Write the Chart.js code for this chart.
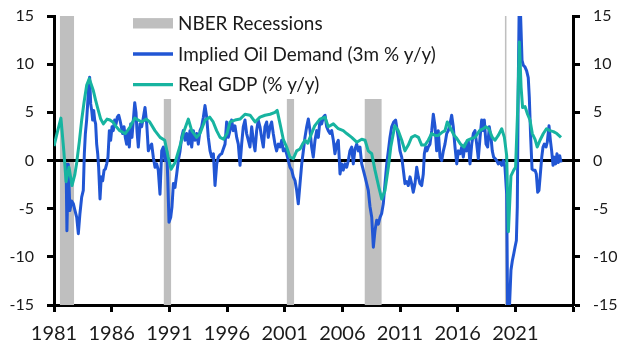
<!DOCTYPE html>
<html>
<head>
<meta charset="utf-8">
<script src="https://cdn.jsdelivr.net/npm/chart.js@4.4.1/dist/chart.umd.min.js"></script>
<style>
  html, body { margin: 0; padding: 0; background: #fff; }
  #wrap { width: 634px; height: 363px; }
</style>
</head>
<body>
<div id="wrap"><canvas id="oilChart"></canvas></div>
<script>
// implied oil demand, 3m % y/y
const oilDates = [
  1982.05, 1982.12, 1982.24, 1982.38, 1982.53, 1982.68, 1982.82, 1982.97, 1983.11, 1983.25,
  1983.40, 1983.54, 1983.63, 1983.72, 1983.83, 1983.92, 1984.00, 1984.09, 1984.18, 1984.27,
  1984.35, 1984.44, 1984.53, 1984.61, 1984.70, 1984.79, 1984.87, 1984.99, 1985.10, 1985.22,
  1985.34, 1985.45, 1985.57, 1985.68, 1985.80, 1985.91, 1986.03, 1986.14, 1986.26, 1986.38,
  1986.49, 1986.61, 1986.72, 1986.84, 1986.95, 1987.07, 1987.18, 1987.30, 1987.42, 1987.53,
  1987.65, 1987.76, 1987.88, 1988.00, 1988.11, 1988.20, 1988.31, 1988.46, 1988.60, 1988.75,
  1988.89, 1989.04, 1989.18, 1989.32, 1989.47, 1989.61, 1989.76, 1989.90, 1990.04, 1990.19,
  1990.34, 1990.48, 1990.62, 1990.77, 1990.86, 1990.97, 1991.12, 1991.23, 1991.35, 1991.49,
  1991.64, 1991.78, 1991.93, 1992.07, 1992.21, 1992.36, 1992.50, 1992.65, 1992.79, 1992.94,
  1993.08, 1993.23, 1993.37, 1993.51, 1993.66, 1993.80, 1993.95, 1994.09, 1994.24, 1994.38,
  1994.53, 1994.67, 1994.82, 1994.96, 1995.11, 1995.25, 1995.39, 1995.54, 1995.68, 1995.83,
  1995.97, 1996.11, 1996.26, 1996.40, 1996.55, 1996.69, 1996.84, 1996.98, 1997.13, 1997.27,
  1997.41, 1997.56, 1997.70, 1997.85, 1997.99, 1998.14, 1998.28, 1998.43, 1998.57, 1998.71,
  1998.86, 1999.00, 1999.15, 1999.29, 1999.44, 1999.58, 1999.73, 1999.87, 2000.01, 2000.16,
  2000.30, 2000.45, 2000.60, 2000.74, 2000.88, 2001.03, 2001.17, 2001.32, 2001.46, 2001.61,
  2001.75, 2001.90, 2002.04, 2002.18, 2002.33, 2002.48, 2002.62, 2002.76, 2002.91, 2003.05,
  2003.20, 2003.34, 2003.48, 2003.63, 2003.78, 2003.92, 2004.06, 2004.21, 2004.35, 2004.50,
  2004.64, 2004.78, 2004.93, 2005.08, 2005.22, 2005.36, 2005.51, 2005.65, 2005.80, 2005.94,
  2006.08, 2006.23, 2006.38, 2006.52, 2006.66, 2006.81, 2006.95, 2007.10, 2007.25, 2007.39,
  2007.53, 2007.68, 2007.82, 2007.97, 2008.11, 2008.25, 2008.40, 2008.55, 2008.69, 2008.83,
  2008.98, 2009.12, 2009.27, 2009.41, 2009.55, 2009.70, 2009.85, 2009.99, 2010.13, 2010.28,
  2010.45, 2010.62, 2010.85, 2011.00, 2011.15, 2011.29, 2011.43, 2011.58, 2011.72, 2011.87,
  2012.01, 2012.15, 2012.30, 2012.45, 2012.59, 2012.73, 2012.88, 2013.02, 2013.11, 2013.23,
  2013.34, 2013.45, 2013.60, 2013.75, 2013.89, 2014.04, 2014.18, 2014.32, 2014.47, 2014.62,
  2014.76, 2014.90, 2015.05, 2015.19, 2015.34, 2015.48, 2015.62, 2015.77, 2015.92, 2016.06,
  2016.20, 2016.35, 2016.49, 2016.64, 2016.78, 2016.92, 2017.07, 2017.22, 2017.36, 2017.50,
  2017.65, 2017.79, 2017.94, 2018.08, 2018.22, 2018.31, 2018.46, 2018.60, 2018.74, 2018.89,
  2019.00, 2019.12, 2019.24, 2019.38, 2019.52, 2019.67, 2019.82, 2019.96, 2020.10, 2020.25,
  2020.33, 2020.48, 2020.62, 2020.74, 2020.86, 2020.97, 2021.09, 2021.17, 2021.26, 2021.35,
  2021.46, 2021.58, 2021.69, 2021.84, 2021.98, 2022.12, 2022.21, 2022.33, 2022.45, 2022.56,
  2022.71, 2022.82, 2022.94, 2023.05, 2023.17, 2023.29, 2023.40, 2023.51, 2023.66, 2023.77,
  2023.92, 2024.03, 2024.15, 2024.27, 2024.38, 2024.50, 2024.61, 2024.73, 2024.85, 2024.96
];
const oilValues = [
  -0.4, -7.3, -0.4, -5.2, -4.2, -4.5, -5.2, -5.9, -7.6, -5.5,
  -3.8, -3.1, 0.7, 2.8, 4.2, 5.9, 7.6, 8.65, 5.9, 5.2,
  4.2, 5.2, 4.2, 3.8, 1.7, 0.7, -0.7, -4.0, -1.7, -2.1,
  -1.0, -0.9, -0.35, 0.35, 3.1, 2.1, 3.5, 3.1, 4.2, 3.8,
  4.5, 4.7, 4.2, 3.5, 2.8, 3.5, 2.4, 1.7, 3.1, 1.4,
  3.8, 2.4, 4.2, 6.0, 5.0, 3.0, 1.4, 3.8, 3.5, 4.5,
  5.5, 3.8, 1.0, 1.4, 1.7, 0.35, -0.7, -0.35, -1.0, -3.5,
  1.0, 1.4, 0.0, 1.0, -1.7, -6.4, -5.9, -4.8, -2.4, -2.8,
  -1.4, 0.0, 1.0, 2.4, 3.1, 2.1, 2.8, 1.7, 3.1, 1.4,
  3.1, 2.1, 2.8, 1.7, 3.1, 3.5, 4.5, 5.7, 4.5, 2.4,
  1.0, 0.35, 0.7, -2.6, -0.35, 0.35, 0.6, 0.7, 1.2, 1.7,
  4.0, 2.4, 3.1, 4.2, 3.1, 3.6, 2.4, 1.7, -0.5, 1.7,
  3.5, 4.2, 2.8, 2.1, 1.4, 3.5, 2.1, 1.0, 3.1, 4.2,
  3.5, 2.4, 1.4, 3.5, 4.0, 2.4, 3.5, 4.0, 2.8, 1.7,
  1.0, 1.7, 1.4, 2.1, 1.0, 1.2, 0.7, 0.0, -0.7, -1.0,
  -1.7, -2.1, -3.1, -4.5, -2.4, -0.35, 1.0, 2.4, 3.5, 4.3,
  3.1, 1.4, 0.35, 2.1, 3.1, 2.4, 4.2, 3.8, 4.5, 4.7,
  3.5, 3.1, 2.8, 3.1, 2.1, 0.7, 1.7, 2.1, -1.4, -0.35,
  -1.0, -0.35, -0.7, 0.0, 1.0, 1.4, -0.35, 1.2, 1.7, 1.0,
  1.4, -0.35, -1.0, -1.7, -2.4, -3.1, -4.8, -5.9, -9.0, -7.3,
  -6.2, -6.6, -5.9, -5.5, -4.5, -2.4, -0.35, 1.0, 2.4, 3.5,
  4.0, 4.2, 2.4, 1.0, 0.35, -1.0, -2.4, -2.2, -2.6, -1.7,
  -2.4, -3.3, -2.4, -0.7, -1.7, -2.4, -2.6, -1.4, 0.7, 1.4,
  1.0, 1.4, 1.7, 3.1, 4.8, 3.5, 1.0, 3.1, 0.35, 0.0,
  1.0, 1.7, 2.8, 3.1, 3.8, 4.7, 3.5, 1.4, -0.35, 1.0,
  0.7, 1.4, 0.35, 1.7, 1.0, 2.1, -0.35, 1.7, 2.8, 3.1,
  1.7, 0.2, 2.4, 4.2, 3.1, 4.2, 1.7, 1.4, 3.5, 2.4,
  1.0, 0.35, 0.2, 0.0, -0.35, -0.2, -0.5, 0.0, -0.7, -3.5,
  -15.5, -15.5, -11.4, -10.4, -9.7, -9.0, -8.3, -4.8, 8.6, 17.5,
  14.9, 10.4, 9.9, 9.7, 9.3, 8.6, 6.6, 2.4, -0.9, -1.0,
  -1.0, -1.4, -3.3, -3.1, -1.4, 0.35, 1.4, 1.7, 1.4, 1.9,
  3.6, 2.2, 1.0, -0.5, 0.35, -0.35, 0.7, -0.2, 0.5, -0.2
];

// real GDP, % y/y
const gdpDates = [
  1981.00, 1981.30, 1981.60, 1981.85, 1982.05, 1982.30, 1982.56, 1982.80, 1982.97, 1983.20,
  1983.40, 1983.60, 1983.83, 1984.06, 1984.40, 1984.60, 1984.84, 1985.05, 1985.28, 1985.60,
  1985.85, 1986.10, 1986.40, 1986.70, 1987.00, 1987.20, 1987.60, 1988.00, 1988.30, 1988.60,
  1989.00, 1989.30, 1989.75, 1990.20, 1990.60, 1990.90, 1991.15, 1991.50, 1991.90, 1992.20,
  1992.65, 1992.94, 1993.37, 1993.66, 1994.10, 1994.50, 1994.80, 1995.10, 1995.40, 1995.70,
  1996.00, 1996.26, 1996.70, 1997.13, 1997.56, 1998.00, 1998.43, 1998.86, 1999.30, 1999.73,
  2000.16, 2000.35, 2000.60, 2000.88, 2001.17, 2001.46, 2001.75, 2002.04, 2002.33, 2002.55,
  2002.76, 2003.00, 2003.30, 2003.60, 2004.06, 2004.50, 2004.78, 2005.22, 2005.65, 2006.08,
  2006.38, 2006.81, 2007.25, 2007.68, 2007.97, 2008.25, 2008.55, 2008.83, 2009.17, 2009.42,
  2009.70, 2009.99, 2010.20, 2010.55, 2010.85, 2011.15, 2011.43, 2011.72, 2012.00, 2012.30,
  2012.60, 2012.88, 2013.17, 2013.45, 2013.75, 2014.04, 2014.32, 2014.62, 2014.90, 2015.10,
  2015.40, 2015.70, 2015.92, 2016.25, 2016.55, 2016.84, 2017.22, 2017.50, 2017.90, 2018.20,
  2018.45, 2018.70, 2019.00, 2019.24, 2019.52, 2019.82, 2020.05, 2020.25, 2020.40, 2020.62,
  2020.86, 2021.02, 2021.20, 2021.35, 2021.50, 2021.63, 2021.84, 2022.06, 2022.27, 2022.47,
  2022.71, 2022.90, 2023.14, 2023.43, 2023.71, 2024.00, 2024.30, 2024.60, 2024.96
];
const gdpValues = [
  1.5, 3.0, 4.4, 1.0, -2.2, -0.7, -2.6, -1.5, -0.2, 2.0,
  4.2, 6.0, 7.8, 8.5, 7.3, 6.3, 5.2, 4.3, 3.8, 4.3,
  4.2, 4.0, 3.5, 3.1, 2.9, 2.8, 3.5, 4.4, 4.2, 4.0,
  4.3, 4.0, 3.1, 2.4, 2.1, 0.35, -0.9, -0.2, 1.4, 2.8,
  4.3, 3.1, 2.4, 2.8, 4.2, 4.5, 4.0, 3.1, 2.4, 2.2,
  2.8, 4.0, 4.2, 4.3, 4.8, 4.7, 4.0, 4.5, 4.7, 4.8,
  5.0, 5.2, 3.8, 2.2, 1.4, 0.35, 0.2, 1.0, 1.2, 1.7,
  2.1, 1.8, 2.7, 3.6, 4.3, 4.5, 3.5, 3.8, 3.3, 3.1,
  2.8, 2.4, 1.9, 2.2, 2.1, 1.0, 0.7, -1.0, -2.8, -4.0,
  -3.1, -0.7, 1.4, 3.6, 3.1, 2.1, 1.0, 1.6, 2.4, 2.6,
  2.4, 1.6, 1.6, 2.1, 2.8, 2.6, 2.6, 2.9, 3.1, 4.0,
  3.3, 2.6, 2.3, 1.7, 1.4, 2.1, 2.3, 2.4, 3.1, 3.3,
  3.5, 3.3, 2.4, 2.1, 2.6, 3.3, 2.4, 0.5, -7.4, -1.6,
  -1.0, -0.7, 5.2, 12.3, 7.6, 5.5, 5.6, 4.8, 4.2, 2.8,
  2.2, 1.4, 2.1, 2.8, 3.3, 3.1, 3.0, 2.8, 2.4
];

// NBER recessions
const recessionStarts = [1981.50, 1990.50, 2001.17, 2007.92, 2020.08];
const recessionEnds = [1982.75, 1991.17, 2001.83, 2009.42, 2020.25];

const yearTicks = [1981, 1986, 1991, 1996, 2001, 2006, 2011, 2016, 2021, 2026];
const yMin = -15;
const yMax = 15;

const textColor = '#1a1a1a';

const toPoints = (xs, ys) => xs.map((x, i) => ({ x: x, y: ys[i] }));

const recessionPoints = [];
recessionStarts.forEach((start, i) => {
  recessionPoints.push({ x: start, y: yMax }, { x: recessionEnds[i], y: yMax }, { x: recessionEnds[i], y: null });
});

// legend sits on a white panel that hides the top of the recession bars
const legendPanel = {
  id: 'legendPanel',
  afterDatasetDraw(chart, args) {
    if (args.index !== 0) return;
    const ctx = chart.ctx;
    const items = [0, 2, 3];
    ctx.save();
    ctx.fillStyle = '#fff';
    ctx.fillRect(125, 0, 325, 99);
    ctx.font = '18.9px Lato';
    ctx.textBaseline = 'alphabetic';
    items.forEach((idx, row) => {
      const ds = chart.data.datasets[idx];
      const midY = 23.3 + row * 30.7;
      if (ds.fill) {
        ctx.fillStyle = ds.backgroundColor;
        ctx.fillRect(133, midY - 5.2, 40, 10.4);
      } else {
        ctx.strokeStyle = ds.borderColor;
        ctx.lineWidth = 3.3;
        ctx.beginPath();
        ctx.moveTo(133, midY);
        ctx.lineTo(173, midY);
        ctx.stroke();
      }
      ctx.fillStyle = textColor;
      ctx.fillText(ds.label, 178, midY + 6.5);
    });
    ctx.restore();
  }
};

const gridStyle = {
  display: true,
  drawOnChartArea: false,
  drawTicks: true,
  tickLength: 7,
  tickColor: '#000',
  tickWidth: 3
};
const borderStyle = { display: true, color: '#000', width: 3 };

const yAxis = (position, width) => ({
  position: position,
  min: yMin,
  max: yMax,
  z: 1,
  afterFit: s => {
    s.width = width;
    s.paddingTop = 0;
    s.paddingBottom = 0;
  },
  grid: gridStyle,
  border: borderStyle,
  ticks: {
    stepSize: 5,
    padding: 13,
    color: textColor,
    font: { family: 'Lato', size: 16 }
  }
});

new Chart(document.getElementById('oilChart'), {
  type: 'line',
  data: {
    datasets: [
      {
        label: 'NBER Recessions',
        data: recessionPoints,
        fill: 'start',
        backgroundColor: '#bfbfbf',
        borderColor: 'transparent',
        borderWidth: 0,
        pointRadius: 0,
        spanGaps: false,
        order: 4
      },
      {
        label: 'zero',
        data: [{ x: yearTicks[0], y: 0 }, { x: yearTicks[yearTicks.length - 1], y: 0 }],
        borderColor: '#000',
        borderWidth: 3,
        pointRadius: 0,
        fill: false,
        order: 3
      },
      {
        label: 'Implied Oil Demand (3m % y/y)',
        data: toPoints(oilDates, oilValues),
        borderColor: '#2156d4',
        borderWidth: 3,
        borderJoinStyle: 'round',
        pointRadius: 0,
        fill: false,
        order: 2
      },
      {
        label: 'Real GDP (% y/y)',
        data: toPoints(gdpDates, gdpValues),
        borderColor: '#17b4a0',
        borderWidth: 3,
        borderJoinStyle: 'round',
        pointRadius: 0,
        fill: false,
        order: 1
      }
    ]
  },
  options: {
    responsive: true,
    maintainAspectRatio: false,
    devicePixelRatio: 1,
    animation: false,
    layout: { padding: { top: 16, left: 0, right: 0, bottom: 0 } },
    elements: { line: { tension: 0 } },
    plugins: {
      legend: { display: false },
      tooltip: { enabled: false }
    },
    scales: {
      x: {
        type: 'linear',
        position: 'bottom',
        min: yearTicks[0],
        max: yearTicks[yearTicks.length - 1],
        z: 1,
        afterBuildTicks: s => { s.ticks = yearTicks.map(v => ({ value: v })); },
        afterFit: s => { s.height = 58; },
        grid: gridStyle,
        border: borderStyle,
        ticks: {
          autoSkip: false,
          maxRotation: 0,
          padding: 10,
          color: textColor,
          font: { family: "'Liberation Sans Narrow', Lato", size: 20 },
          callback: v => (v === yearTicks[yearTicks.length - 1] ? '' : String(v))
        }
      },
      y: yAxis('left', 54),
      y2: yAxis('right', 61)
    }
  },
  plugins: [legendPanel]
});
</script>
</body>
</html>
